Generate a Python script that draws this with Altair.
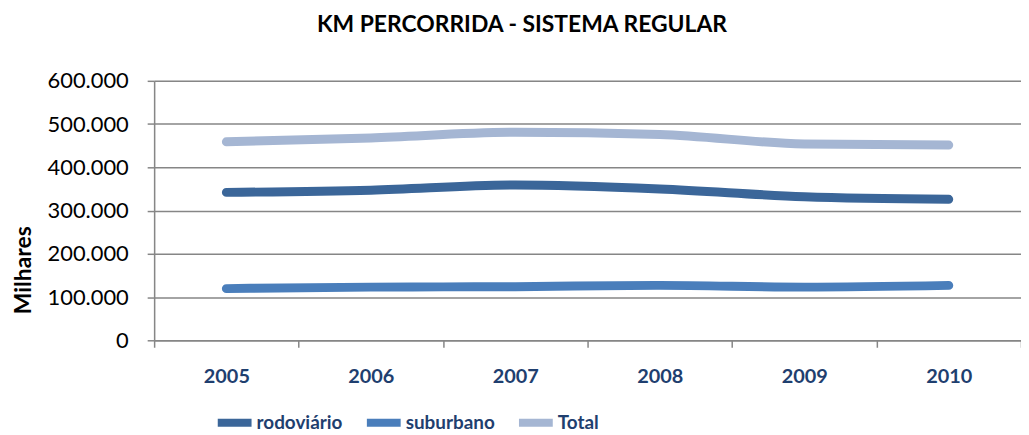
import altair as alt
import pandas as pd

years = ["2005", "2006", "2007", "2008", "2009", "2010"]
rodoviario = [342000, 347000, 359000, 350000, 332000, 326000]
suburbano = [119500, 123000, 124000, 127000, 123000, 127000]
total = [459000, 468000, 481000, 476000, 454000, 451500]

series = ["rodoviário", "suburbano", "Total"]
colors = ["#3b6699", "#4a7ebb", "#a5b6d3"]

rows = []
for name, vals in zip(series, [rodoviario, suburbano, total]):
    for y, v in zip(years, vals):
        rows.append({"ano": y, "valor": v, "serie": name})
df = pd.DataFrame(rows)

lab_font = "Lato"

chart = (
    alt.Chart(df)
    .mark_line(strokeWidth=9, strokeCap="round", strokeJoin="round", interpolate="monotone")
    .encode(
        x=alt.X(
            "ano:N",
            sort=years,
            title=None,
            scale=alt.Scale(paddingInner=0, paddingOuter=0),
            axis=alt.Axis(
                labelAngle=0,
                labelFont=lab_font,
                labelFontWeight="bold",
                labelFontSize=20,
                labelColor="#1f3f6f",
                labelPadding=19,
                tickSize=7,
                tickColor="#868686",
                tickWidth=1.5,
                domainColor="#868686",
                domainWidth=1.5,
                tickBand="extent",
                grid=False,
            ),
        ),
        y=alt.Y(
            "valor:Q",
            title="Milhares",
            scale=alt.Scale(domain=[0, 600000]),
            axis=alt.Axis(
                values=[0, 100000, 200000, 300000, 400000, 500000, 600000],
                format=",.0f",
                labelFont="Lato",
                labelFontSize=22,
                labelColor="#000000",
                labelPadding=19,
                tickSize=7,
                tickColor="#868686",
                tickWidth=1.5,
                domainColor="#868686",
                domainWidth=1.5,
                gridColor="#868686",
                gridWidth=1.5,
                titleFont="Lato",
                titleFontSize=23,
                titleFontWeight="bold",
                titleColor="#000000",
                titleAngle=270,
                titleX=-131,
                titleY=190,
                titleAlign="center",
                titleBaseline="middle",
            ),
        ),
        color=alt.Color(
            "serie:N",
            sort=series,
            scale=alt.Scale(domain=series, range=colors),
            legend=alt.Legend(
                title=None,
                orient="none",
                direction="horizontal",
                legendX=60,
                legendY=323,
                symbolType="stroke",
                symbolSize=1156,
                symbolStrokeWidth=8,
                labelFont=lab_font,
                labelFontWeight="bold",
                labelFontSize=19,
                labelColor="#1f3f6f",
                labelOffset=1,
                columnPadding=8,
                labelLimit=200,
            ),
        ),
    )
    .properties(
        width=872,
        height=261,
        autosize=alt.AutoSizeParams(type="none"),
        padding={"left": 147, "top": 72, "right": 0, "bottom": 92},
        title=alt.TitleParams(
            "KM PERCORRIDA - SISTEMA REGULAR",
            font="Lato",
            fontSize=23,
            fontWeight="bold",
            color="#000000",
            anchor="middle",
            frame="group",
            dx=-66,
            offset=33,
        ),
    )
    .configure_view(fill="#e9edf4", stroke=None)
    .configure(locale={"number": {"decimal": ",", "thousands": ".", "grouping": [3], "currency": ["R$", ""]}})
)

chart.save("out.html", embed_options={"renderer": "svg", "actions": False})
